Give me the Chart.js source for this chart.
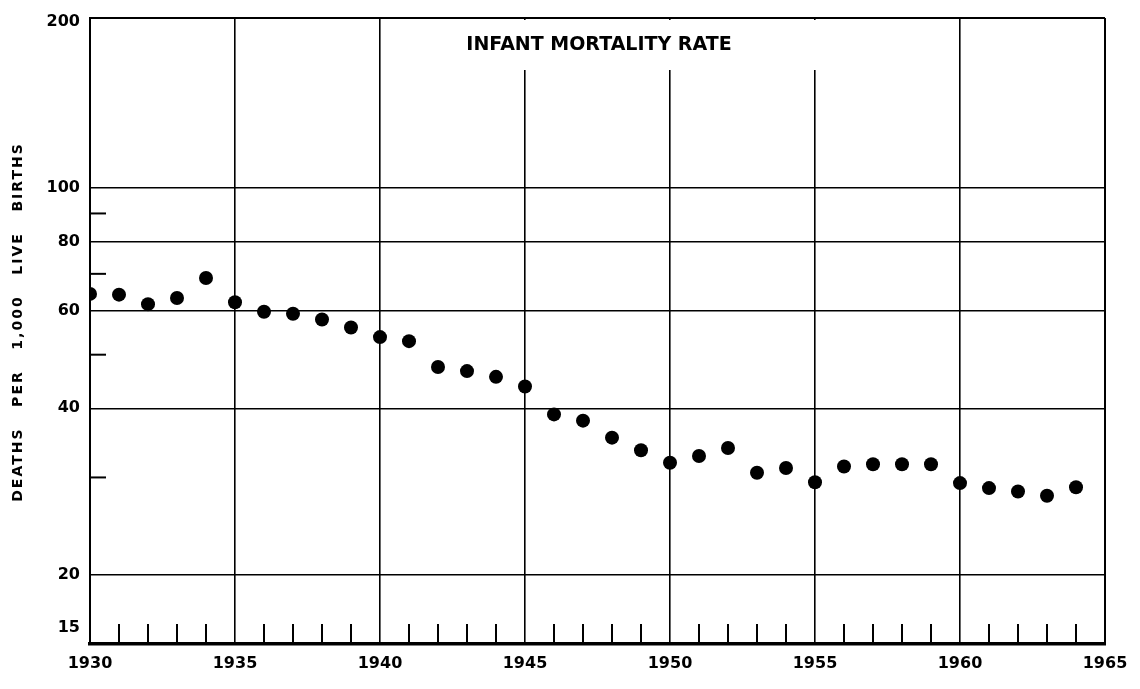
<!DOCTYPE html>
<html>
<head>
<meta charset="utf-8">
<script src="https://cdn.jsdelivr.net/npm/chart.js@4.4.1/dist/chart.umd.min.js"></script>
<style>
  html, body { margin: 0; padding: 0; background: #ffffff; }
  #wrap { width: 1140px; height: 689px; }
</style>
</head>
<body>
<div id="wrap"><canvas id="c" width="1140" height="689"></canvas></div>
<script>
// ---- data ----
const years = [1930,1931,1932,1933,1934,1935,1936,1937,1938,1939,
               1940,1941,1942,1943,1944,1945,1946,1947,1948,1949,
               1950,1951,1952,1953,1954,1955,1956,1957,1958,1959,
               1960,1961,1962,1963,1964];
const rates = [64.4,64.2,61.7,63.3,68.8,62.2,59.8,59.3,57.9,56.0,
               53.8,52.9,47.5,46.7,45.6,43.8,39.0,38.0,35.4,33.6,
               31.9,32.8,33.9,30.6,31.2,29.4,31.4,31.7,31.7,31.7,
               29.3,28.7,28.3,27.8,28.8];
const xMajorTicks = [1930,1935,1940,1945,1950,1955,1960,1965];
const xTickLabels = ['1930','1935','1940','1945','1950','1955','1960','1965'];
const xMinorTicks = years.filter(y => y % 5 !== 0);
const yTicks = [15,20,40,60,80,100,200];
const yTickLabels = ['15','20','40','60','80','100','200'];
const yMinorTicks = [30,50,70,90];
const chartTitle = 'INFANT MORTALITY RATE';
const yAxisTitle = 'DEATHS   PER   1,000   LIVE   BIRTHS';

const FONT = "'DejaVu Sans', sans-serif";

const decor = {
  id: 'decor',
  beforeDatasetsDraw(chart) {
    const {ctx, chartArea: a, scales: {x, y}} = chart;
    ctx.save();
    // white area behind the title (gridlines stop below it)
    ctx.fillStyle = '#ffffff';
    ctx.fillRect(440, a.top + 2, 440, 70 - a.top - 2);
    // title
    ctx.fillStyle = '#000';
    ctx.font = "bold 19px " + FONT;
    ctx.textAlign = 'center';
    ctx.textBaseline = 'middle';
    ctx.fillText(chartTitle, 599, 45);
    // frame top
    ctx.strokeStyle = '#000';
    ctx.lineWidth = 2;
    ctx.beginPath();
    ctx.moveTo(a.left, a.top); ctx.lineTo(a.right, a.top);
    ctx.stroke();
    // minor x ticks
    xMinorTicks.forEach(v => {
      const px = x.getPixelForValue(v);
      ctx.beginPath();
      ctx.moveTo(px, a.bottom);
      ctx.lineTo(px, a.bottom - 20);
      ctx.stroke();
    });
    // minor y ticks
    yMinorTicks.forEach(v => {
      const py = y.getPixelForValue(v);
      ctx.beginPath();
      ctx.moveTo(a.left, py);
      ctx.lineTo(a.left + 16, py);
      ctx.stroke();
    });
    ctx.restore();
  },
  afterDraw(chart) {
    const {ctx} = chart;
    ctx.save();
    ctx.translate(18, 322);
    ctx.rotate(-Math.PI / 2);
    ctx.fillStyle = '#000';
    ctx.font = "bold 14px " + FONT;
    ctx.letterSpacing = '2px';
    ctx.textAlign = 'center';
    ctx.textBaseline = 'middle';
    ctx.fillText(yAxisTitle, 0, 0);
    ctx.restore();
  }
};

new Chart(document.getElementById('c'), {
  type: 'scatter',
  data: {
    datasets: [{
      data: years.map((yr, i) => ({x: yr, y: rates[i]})),
      backgroundColor: '#000',
      borderColor: '#000',
      borderWidth: 0,
      pointRadius: 7,
      pointHoverRadius: 7,
      showLine: false
    }]
  },
  options: {
    responsive: false,
    animation: false,
    devicePixelRatio: 1,
    layout: { padding: { left: 0, right: 35, top: 14, bottom: 0 } },
    plugins: { legend: { display: false }, tooltip: { enabled: false }, title: { display: false } },
    scales: {
      x: {
        type: 'linear',
        min: 1930,
        max: 1965,
        afterBuildTicks: s => { s.ticks = xMajorTicks.map(v => ({value: v})); },
        afterFit: s => { s.height = 45; },
        ticks: {
          callback: (v) => xTickLabels[xMajorTicks.indexOf(v)],
          color: '#000',
          font: { family: FONT, size: 16, weight: 'bold' },
          padding: 10,
          maxRotation: 0,
          autoSkip: false
        },
        grid: {
          color: '#000',
          lineWidth: c => (c.tick && (c.tick.value === 1930 || c.tick.value === 1965)) ? 2 : 1.6,
          drawTicks: false
        },
        border: { display: true, color: '#000', width: 3.5 }
      },
      y: {
        type: 'logarithmic',
        min: 15,
        max: 203,
        afterBuildTicks: s => { s.ticks = yTicks.map(v => ({value: v})); },
        afterFit: s => { s.width = 90; },
        ticks: {
          callback: (v) => {
            const lbl = yTickLabels[yTicks.indexOf(v)];
            return v === 15 ? [lbl, '', ''] : lbl;
          },
          color: '#000',
          font: { family: FONT, size: 16, weight: 'bold', lineHeight: 1 },
          padding: 10,
          autoSkip: false
        },
        grid: {
          color: c => (c.tick && (c.tick.value === 15 || c.tick.value === 200)) ? 'rgba(0,0,0,0)' : '#000',
          lineWidth: 1.6,
          drawTicks: false
        },
        border: { display: true, color: '#000', width: 2 }
      }
    }
  },
  plugins: [decor]
});
</script>
</body>
</html>
